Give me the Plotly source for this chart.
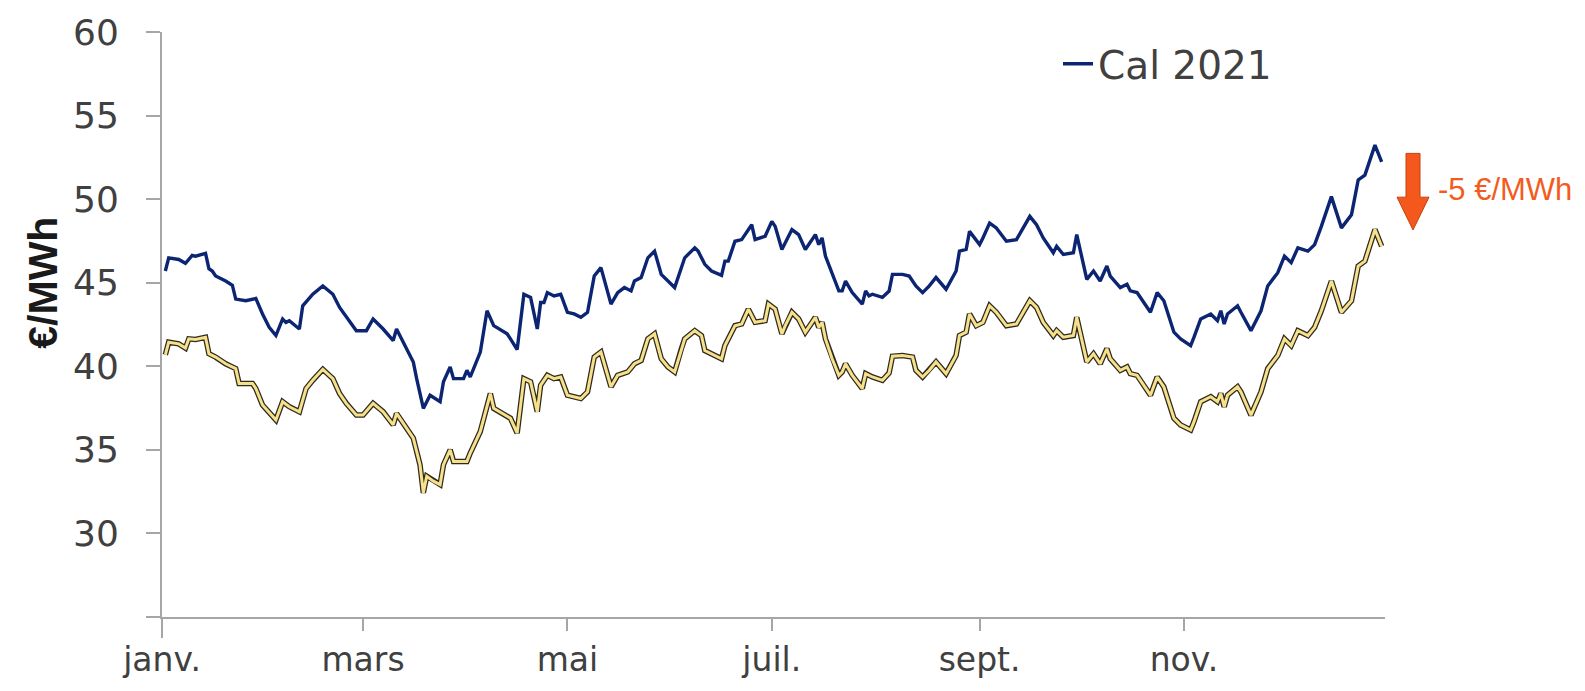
import pandas as pd
import plotly.graph_objects as go

# ---- data (day offset from 1 Jan 2020, value in EUR/MWh) ----
cal_days = [1, 2, 5, 7, 9, 10, 13, 14, 15, 16, 19, 21, 22, 25, 28, 30, 32, 34, 36, 37, 38, 41, 42, 45, 48, 51, 53, 55, 58, 61,
            63, 66, 69, 70, 72, 75, 76, 78, 80, 83, 84, 86, 87, 90, 91, 92, 95, 97, 99, 103, 104, 106, 108, 110, 112, 113, 114,
            115, 117, 119, 121, 123, 125, 127, 129, 131, 134, 136, 138, 140, 141, 143, 145, 147, 149, 151, 153, 155, 156, 159,
            160, 162, 164, 167, 168, 169, 171, 173, 176, 177, 180, 182, 183, 185, 186, 188, 190, 192, 194, 195, 196, 197, 198,
            200, 202, 203, 204, 206, 209, 210, 211, 212, 215, 217, 218, 221, 223, 225, 227, 229, 231, 234, 237, 238, 240, 241,
            244, 245, 247, 249, 252, 255, 259, 261, 263, 266, 267, 269, 272, 273, 274, 276, 278, 280, 282, 283, 286, 288, 289,
            291, 295, 297, 299, 302, 304, 307, 308, 310, 313, 315, 316, 317, 318, 321, 322, 325, 328, 330, 333, 335, 337, 339,
            342, 344, 346, 349, 352, 355, 357, 359, 362, 364]
cal_values = [45.70, 46.49, 46.39, 46.16, 46.63, 46.59, 46.75, 45.84, 45.70, 45.40, 45.10, 44.85, 44.02, 43.92, 44.06, 43.13,
              42.33, 41.84, 42.83, 42.63, 42.73, 42.23, 43.62, 44.31, 44.81, 44.31, 43.52, 42.93, 42.13, 42.13, 42.83, 42.23,
              41.54, 42.23, 41.44, 40.26, 39.26, 37.48, 38.27, 37.88, 39.07, 39.96, 39.26, 39.26, 39.76, 39.36, 40.85, 43.32,
              42.43, 41.94, 41.64, 41.00, 44.31, 44.12, 42.23, 43.82, 43.82, 44.41, 44.21, 44.31, 43.23, 43.13, 42.93, 43.23,
              45.40, 45.90, 43.72, 44.41, 44.71, 44.51, 45.10, 45.31, 46.49, 46.89, 45.50, 45.10, 44.71, 45.90, 46.49, 47.09,
              46.89, 46.10, 45.70, 45.44, 46.29, 46.29, 47.48, 47.58, 48.47, 47.58, 47.78, 48.67, 48.37, 46.99, 47.39, 48.18,
              47.88, 46.99, 47.58, 47.88, 47.28, 47.68, 46.59, 45.50, 44.51, 44.51, 45.10, 44.41, 43.72, 44.51, 44.21, 44.31,
              44.12, 44.50, 45.50, 45.50, 45.40, 44.81, 44.41, 44.81, 45.31, 44.61, 45.70, 46.89, 46.99, 48.07, 47.28, 47.68,
              48.57, 48.28, 47.48, 47.58, 48.97, 48.47, 47.68, 46.79, 47.18, 46.69, 46.79, 47.88, 46.99, 45.20, 45.70, 45.10,
              46.00, 45.40, 44.71, 44.91, 44.51, 44.41, 43.23, 44.41, 43.92, 42.04, 41.64, 41.24, 41.74, 42.83, 43.13, 42.73,
              43.32, 42.53, 43.13, 43.62, 43.23, 42.13, 43.32, 44.81, 45.60, 46.59, 46.20, 47.09, 46.89, 47.28, 48.37, 50.15,
              48.28, 49.07, 51.15, 51.44, 53.23, 52.23]

low_days = [1, 2, 5, 7, 8, 10, 13, 14, 16, 19, 22, 23, 27, 28, 30, 34, 36, 38, 41, 43, 45, 48, 51, 53, 55, 58, 60, 63, 66, 69,
            70, 72, 75, 77, 78, 79, 81, 83, 84, 86, 87, 91, 92, 95, 98, 99, 104, 106, 108, 110, 112, 113, 115, 117, 119, 121,
            125, 127, 129, 131, 134, 136, 139, 141, 143, 145, 147, 149, 151, 153, 155, 156, 159, 161, 162, 165, 167, 168, 171,
            173, 175, 177, 180, 181, 183, 185, 186, 188, 190, 192, 194, 195, 196, 197, 198, 200, 202, 203, 204, 206, 209, 210,
            212, 215, 217, 218, 221, 224, 225, 227, 229, 231, 234, 237, 238, 240, 241, 243, 245, 247, 249, 252, 255, 259, 261,
            263, 266, 267, 269, 272, 273, 274, 276, 278, 280, 282, 283, 286, 288, 289, 291, 295, 297, 299, 302, 304, 307, 308,
            310, 313, 315, 316, 317, 318, 321, 322, 325, 328, 330, 333, 335, 337, 339, 342, 344, 346, 349, 352, 355, 357, 359,
            362, 364]
low_values = [40.69, 41.44, 41.34, 41.09, 41.64, 41.60, 41.74, 40.75, 40.55, 40.15, 39.86, 38.97, 38.97, 38.67, 37.68, 36.79,
              37.88, 37.58, 37.28, 38.67, 39.16, 39.82, 39.26, 38.37, 37.78, 37.08, 37.08, 37.78, 37.28, 36.49, 37.18, 36.60,
              35.70, 34.11, 32.43, 33.42, 33.13, 32.92, 34.11, 35.00, 34.31, 34.31, 34.81, 36.10, 38.37, 37.48, 36.89, 36.00,
              39.26, 39.07, 37.28, 38.87, 39.46, 39.26, 39.36, 38.27, 38.07, 38.47, 40.55, 40.85, 38.77, 39.46, 39.66, 40.15,
              40.35, 41.64, 41.94, 40.45, 39.96, 39.66, 41.05, 41.64, 42.13, 41.84, 40.94, 40.65, 40.45, 41.24, 42.43, 42.53,
              43.42, 42.63, 42.73, 43.72, 43.42, 41.94, 42.43, 43.23, 42.83, 42.04, 42.63, 42.93, 42.33, 42.63, 41.64, 40.45,
              39.46, 39.66, 40.15, 39.46, 38.67, 39.56, 39.36, 39.16, 39.60, 40.60, 40.65, 40.55, 39.76, 39.36, 39.76, 40.26,
              39.56, 40.65, 41.84, 42.04, 43.13, 42.43, 42.63, 43.62, 43.23, 42.43, 42.53, 43.92, 43.52, 42.63, 41.84, 42.13,
              41.74, 41.84, 42.93, 42.04, 40.26, 40.75, 40.15, 41.05, 40.45, 39.76, 39.96, 39.56, 39.46, 38.27, 39.36, 38.77,
              36.89, 36.49, 36.19, 36.69, 37.88, 38.18, 37.88, 38.37, 37.58, 38.27, 38.77, 38.47, 37.08, 38.47, 39.86, 40.65,
              41.64, 41.24, 42.13, 41.84, 42.33, 43.32, 45.10, 43.23, 43.92, 46.00, 46.29, 48.18, 47.18]

month_ticks = ["2020-01-01", "2020-03-01", "2020-05-01", "2020-07-01", "2020-09-01", "2020-11-01"]
month_labels = ["janv.", "mars", "mai", "juil.", "sept.", "nov."]
y_ticks = [25, 30, 35, 40, 45, 50, 55, 60]
y_labels = ["", "30", "35", "40", "45", "50", "55", "60"]
series_name = "Cal 2021"
delta_label = "-5 €/MWh"
y_title = "€/MWh"

start = pd.Timestamp("2020-01-01")
cal_dates = [start + pd.Timedelta(days=d) for d in cal_days]
low_dates = [start + pd.Timedelta(days=d) for d in low_days]

# ---- layout geometry (pixels) ----
W, H = 1585, 691
L, R, T, B = 162, 200, 31, 72
pw, ph = W - L - R, H - T - B


def px(x):
    return (x - L) / pw


def py(y):
    return (H - B - y) / ph


AXIS = "#a6a6a6"
TXT = "#404040"

fig = go.Figure()
fig.add_trace(go.Scatter(x=low_dates, y=low_values, mode="lines",
                         line=dict(color="#2e2a1c", width=5.5), showlegend=False, hoverinfo="skip"))
fig.add_trace(go.Scatter(x=low_dates, y=low_values, mode="lines",
                         line=dict(color="#f6e08c", width=3), showlegend=False))
fig.add_trace(go.Scatter(x=cal_dates, y=cal_values, mode="lines", name=series_name,
                         line=dict(color="#0b2573", width=3.4)))

# orange arrow
ax0, ax1 = 1406, 1420
hx0, hx1, tipx = 1397, 1429, 1413
top, neck, tip = 153, 197, 230
path = (f"M {px(ax0)} {py(top)} L {px(ax1)} {py(top)} L {px(ax1)} {py(neck)} L {px(hx1)} {py(neck)} "
        f"L {px(tipx)} {py(tip)} L {px(hx0)} {py(neck)} L {px(ax0)} {py(neck)} Z")
fig.add_shape(type="path", path=path, xref="paper", yref="paper",
              fillcolor="#f4581c", line=dict(color="#c4430e", width=1))

# janv. tick extends below axis
fig.add_shape(type="line", xref="paper", yref="paper", x0=0, x1=0, y0=0, y1=py(640),
              line=dict(color=AXIS, width=2))

fig.add_annotation(text=delta_label, xref="paper", yref="paper", x=px(1436), y=py(189),
                   xanchor="left", yanchor="middle", showarrow=False,
                   font=dict(family="Liberation Sans, Arial", size=31, color="#f25c1e"))
fig.add_annotation(text=f"<b>{y_title}</b>", xref="paper", yref="paper", x=px(43), y=py(283),
                   xanchor="center", yanchor="middle", textangle=-90, showarrow=False,
                   font=dict(family="Liberation Sans, Arial", size=41, color="#1a1a1a"))

fig.update_layout(
    width=W, height=H,
    margin=dict(l=L, r=R, t=T, b=B),
    paper_bgcolor="white", plot_bgcolor="white",
    showlegend=True,
    legend=dict(x=px(1058), y=py(63), xanchor="left", yanchor="middle",
                font=dict(family="DejaVu Sans", size=39, color=TXT),
                bgcolor="rgba(0,0,0,0)", itemwidth=30),
    xaxis=dict(type="date", range=["2020-01-01", "2020-12-31"],
               tickvals=month_ticks, ticktext=month_labels,
               ticks="outside", ticklen=12, tickwidth=2, tickcolor=AXIS,
               showline=True, linecolor=AXIS, linewidth=2,
               showgrid=False, zeroline=False,
               tickfont=dict(family="DejaVu Sans", size=33, color=TXT)),
    yaxis=dict(range=[25, 60], tickvals=y_ticks, ticktext=y_labels,
               ticks="outside", ticklen=14, tickwidth=2, tickcolor=AXIS,
               showline=True, linecolor=AXIS, linewidth=2,
               showgrid=False, zeroline=False, ticklabelstandoff=20,
               tickfont=dict(family="DejaVu Sans", size=36, color=TXT)),
)

fig.write_html("out.html")
